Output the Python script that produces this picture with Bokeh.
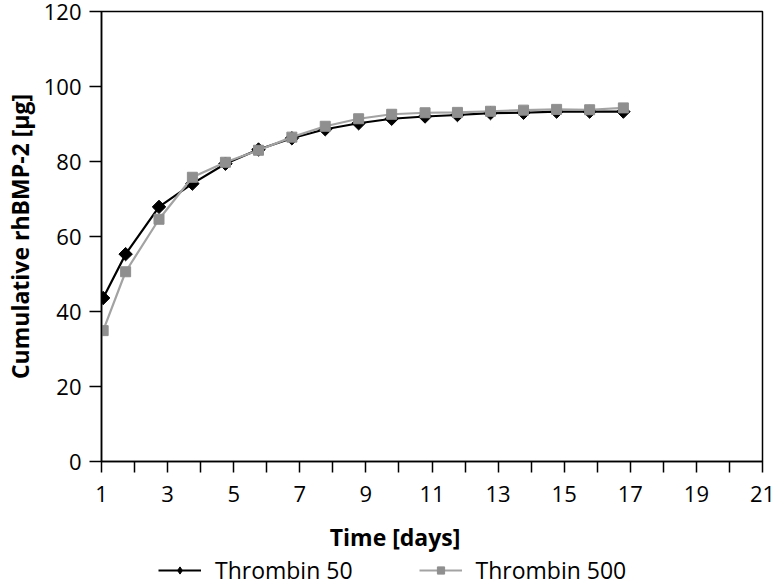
import math
from bokeh.plotting import figure
from bokeh.layouts import column
from bokeh.models import (FixedTicker, Legend, LegendItem, Label, Range1d, ColumnDataSource)
from bokeh.embed import file_html
from bokeh.resources import INLINE

# ---- data ----
days = [1.05, 1.73, 2.74, 3.75, 4.75, 5.75, 6.76, 7.77, 8.78, 9.78, 10.79,
        11.77, 12.77, 13.77, 14.77, 15.77, 16.79]
thrombin_50 = [43.6, 55.3, 67.9, 74.1, 79.4, 83.2, 86.2, 88.6, 90.2, 91.4, 92.0,
               92.4, 92.9, 93.0, 93.3, 93.3, 93.3]
thrombin_500 = [34.9, 50.6, 64.6, 75.8, 79.8, 83.0, 86.5, 89.4, 91.4, 92.6, 93.0,
                93.1, 93.4, 93.7, 93.9, 93.8, 94.3]
x_label_ticks = [1, 3, 5, 7, 9, 11, 13, 15, 17, 19, 21]
x_minor_ticks = [2, 4, 6, 8, 10, 12, 14, 16, 18, 20]
y_ticks = [0, 20, 40, 60, 80, 100, 120]
series_names = ["Thrombin 50", "Thrombin 500"]
x_title = "Time [days]"
y_title = "Cumulative rhBMP-2 [µg]"

FONT = "Open Sans"
BLACK = "#000000"
GRAY_LINE = "#a3a3a3"
GRAY_MARK = "#8f8f8f"
DIAMOND_ANGLE = math.pi / 4

# ---------------- main chart ----------------
p = figure(width=775, height=515, output_backend="svg", toolbar_location=None,
           x_range=Range1d(1, 21), y_range=Range1d(0, 120),
           min_border_left=100, min_border_right=13, min_border_top=11,
           min_border_bottom=54)
p.background_fill_color = None
p.border_fill_color = "white"
p.outline_line_color = BLACK
p.outline_line_width = 1.5
p.xgrid.grid_line_color = None
p.ygrid.grid_line_color = None

src = ColumnDataSource(dict(x=days, a=thrombin_50, b=thrombin_500))

p.line("x", "a", source=src, line_color=BLACK, line_width=2.2)
p.scatter("x", "a", source=src, marker="square", angle=DIAMOND_ANGLE, size=9.5,
          fill_color=BLACK, line_color=BLACK)
p.line("x", "b", source=src, line_color=GRAY_LINE, line_width=2.2)
p.scatter("x", "b", source=src, marker="square", size=10,
          fill_color=GRAY_MARK, line_color=GRAY_MARK)

xa = p.xaxis[0]
xa.ticker = FixedTicker(ticks=x_label_ticks, minor_ticks=x_minor_ticks)
xa.major_tick_out = 11
xa.major_tick_in = 0
xa.minor_tick_out = 11
xa.minor_tick_in = 0
xa.minor_tick_line_color = BLACK
xa.minor_tick_line_width = 1.5
xa.major_tick_line_width = 1.5
xa.axis_line_width = 1.5
xa.major_label_text_font = FONT
xa.major_label_text_font_size = "22px"
xa.major_label_text_color = BLACK
xa.major_label_standoff = 13

ya = p.yaxis[0]
ya.ticker = FixedTicker(ticks=y_ticks)
ya.major_tick_out = 12
ya.major_tick_in = 0
ya.minor_tick_line_color = None
ya.major_tick_line_width = 1.5
ya.axis_line_width = 1.5
ya.major_label_text_font = FONT
ya.major_label_text_font_size = "22px"
ya.major_label_text_color = BLACK
ya.major_label_standoff = 8
ya.axis_label = y_title
ya.axis_label_text_font = FONT
ya.axis_label_text_font_size = "23px"
ya.axis_label_text_font_style = "bold"
ya.axis_label_text_color = BLACK
ya.axis_label_standoff = 5

# ---------------- bottom strip: x title + legend ----------------
# frame spans page x 100..762, so the x range is in page pixels
p2 = figure(width=775, height=70, output_backend="svg", toolbar_location=None,
            x_range=Range1d(100, 762), y_range=Range1d(0, 70),
            x_axis_location=None, y_axis_location=None,
            min_border_left=100, min_border_right=13, min_border_top=0, min_border_bottom=0)
p2.outline_line_color = None
p2.background_fill_color = None
p2.border_fill_color = "white"
p2.xgrid.grid_line_color = None
p2.ygrid.grid_line_color = None

p2.add_layout(Label(x=394, y=49, text=x_title, text_font=FONT, text_font_size="23px",
                    text_font_style="bold", text_align="center", text_baseline="middle",
                    text_color=BLACK))

# legend proxies: one real data point each, lying outside this strip's ranges
proxy = ColumnDataSource(dict(x=[days[0]], a=[thrombin_50[0]], b=[thrombin_500[0]]))
g1 = p2.line("x", "a", source=proxy, line_color=BLACK, line_width=2.2)
g1m = p2.scatter("x", "a", source=proxy, marker="diamond", size=15,
                 fill_color=BLACK, line_color=BLACK)
g2 = p2.line("x", "b", source=proxy, line_color=GRAY_LINE, line_width=2.2)
g2m = p2.scatter("x", "b", source=proxy, marker="square", size=8,
                 fill_color=GRAY_MARK, line_color=GRAY_MARK)

legend = Legend(items=[LegendItem(label=series_names[0], renderers=[g1, g1m]),
                       LegendItem(label=series_names[1], renderers=[g2, g2m])],
                orientation="horizontal", location=(57, -1),
                label_text_font=FONT, label_text_font_size="23px",
                label_text_color=BLACK, border_line_color=None,
                background_fill_alpha=0, glyph_width=43, glyph_height=18,
                spacing=66, padding=0, margin=0, label_standoff=14)
p2.add_layout(legend, "center")

layout = column(p, p2, spacing=0)
open("out.html", "w").write(file_html(layout, INLINE))
